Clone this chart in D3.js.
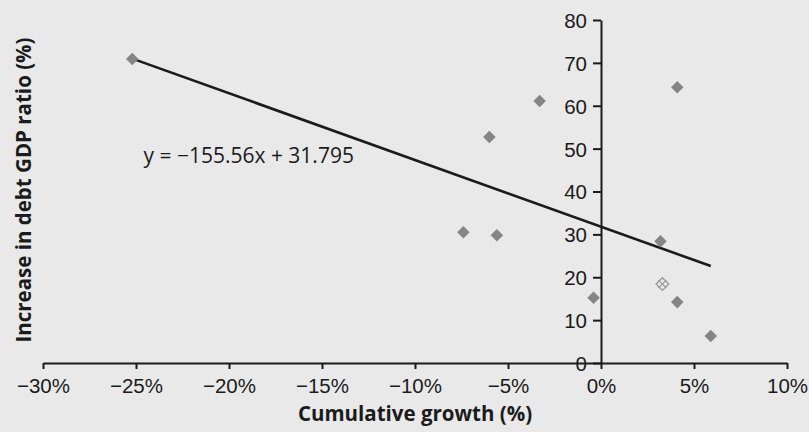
<!DOCTYPE html>
<html>
<head>
<meta charset="utf-8">
<script src="https://cdn.jsdelivr.net/npm/d3@7"></script>
<style>
  html, body { margin: 0; padding: 0; background: #e9e9e9; }
  svg { display: block; font-family: "Open Sans", "Noto Sans", sans-serif; }
</style>
</head>
<body>
<svg id="chart" width="809" height="432"></svg>
<script>
// Cumulative growth (fraction) vs increase in debt/GDP ratio (percentage points)
const growth   = [-0.252, -0.060, -0.033, 0.041, -0.074, -0.056, 0.032, 0.033, -0.004, 0.041, 0.059];
const debtRise = [  70.9,   52.7,   61.1,  64.3,   30.5,   29.8,  28.4,  18.4,   15.2,  14.2,   6.3];
// marker style per point: one point is printed with a different (hatched) symbol
const markerKind = ["d", "d", "d", "d", "d", "d", "d", "x", "d", "d", "d"];

// fitted trend line  y = slope * x + intercept
const slope = -155.56;
const intercept = 31.795;
const equationLabel = "y = \u2212155.56x + 31.795";

const xTicks = [-0.30, -0.25, -0.20, -0.15, -0.10, -0.05, 0, 0.05, 0.10];
const yTicks = [0, 10, 20, 30, 40, 50, 60, 70, 80];
const xTitle = "Cumulative growth (%)";
const yTitle = "Increase in debt GDP ratio (%)";

const W = 809, H = 432;
const margin = { top: 20, right: 22, bottom: 69, left: 43 };

const svg = d3.select("#chart");

const x = d3.scaleLinear().domain([-0.30, 0.10]).range([margin.left, W - margin.right]);
const y = d3.scaleLinear().domain([0, 80]).range([H - margin.bottom, margin.top]);

const ink = "#1b1b1b";

// x axis along y = 0
const gx = svg.append("g")
  .attr("transform", `translate(0,${y(0)})`)
  .call(d3.axisBottom(x).tickValues(xTicks).tickFormat(d3.format(".0%")).tickSize(6).tickSizeOuter(0).tickPadding(9));

// y axis through x = 0
const gy = svg.append("g")
  .attr("transform", `translate(${x(0)},0)`)
  .call(d3.axisLeft(y).tickValues(yTicks).tickSize(8).tickSizeOuter(0).tickPadding(6));

[gx, gy].forEach(g => {
  g.select(".domain").attr("stroke", ink).attr("stroke-width", 2);
  g.selectAll(".tick line").attr("stroke", ink).attr("stroke-width", 2);
  g.selectAll(".tick text").attr("fill", ink).attr("font-size", 20.5);
});
gy.selectAll(".tick text").attr("dy", "0.36em");

// trend line over the observed range of growth
const [gMin, gMax] = d3.extent(growth);
const line = d3.line().x(d => x(d)).y(d => y(slope * d + intercept));
svg.append("path")
  .datum([gMin, gMax])
  .attr("d", line)
  .attr("fill", "none")
  .attr("stroke", ink)
  .attr("stroke-width", 2.6);

// data markers
const pts = growth.map((g, i) => ({ g, v: debtRise[i], k: markerKind[i] }));
const diamond = d3.symbol().type(d3.symbolDiamond2).size(100);
const markers = svg.append("g");
markers.selectAll("path.pt")
  .data(pts)
  .join("path")
  .attr("class", "pt")
  .attr("transform", d => `translate(${x(d.g)},${y(d.v)})`)
  .attr("d", diamond)
  .attr("fill", d => d.k === "x" ? "none" : "#858585")
  .attr("stroke", d => d.k === "x" ? "#9a9a9a" : "none")
  .attr("stroke-width", 1.4);
markers.selectAll("path.hatch")
  .data(pts.filter(d => d.k === "x"))
  .join("path")
  .attr("class", "hatch")
  .attr("transform", d => `translate(${x(d.g)},${y(d.v)})`)
  .attr("d", "M-4,-4L4,4M-4,4L4,-4")
  .attr("stroke", "#9a9a9a")
  .attr("stroke-width", 1.3);

// equation of the trend line
svg.append("text")
  .attr("x", x(-0.246))
  .attr("y", y(46.6))
  .attr("font-size", 21)
  .attr("fill", ink)
  .text(equationLabel);

// axis titles
svg.append("text")
  .attr("x", 415)
  .attr("y", 421)
  .attr("text-anchor", "middle")
  .attr("font-size", 20.5)
  .attr("font-weight", "bold")
  .attr("fill", ink)
  .text(xTitle);

svg.append("text")
  .attr("transform", `translate(31,${190}) rotate(-90)`)
  .attr("text-anchor", "middle")
  .attr("font-size", 20.5)
  .attr("font-weight", "bold")
  .attr("fill", ink)
  .text(yTitle);
</script>
</body>
</html>
